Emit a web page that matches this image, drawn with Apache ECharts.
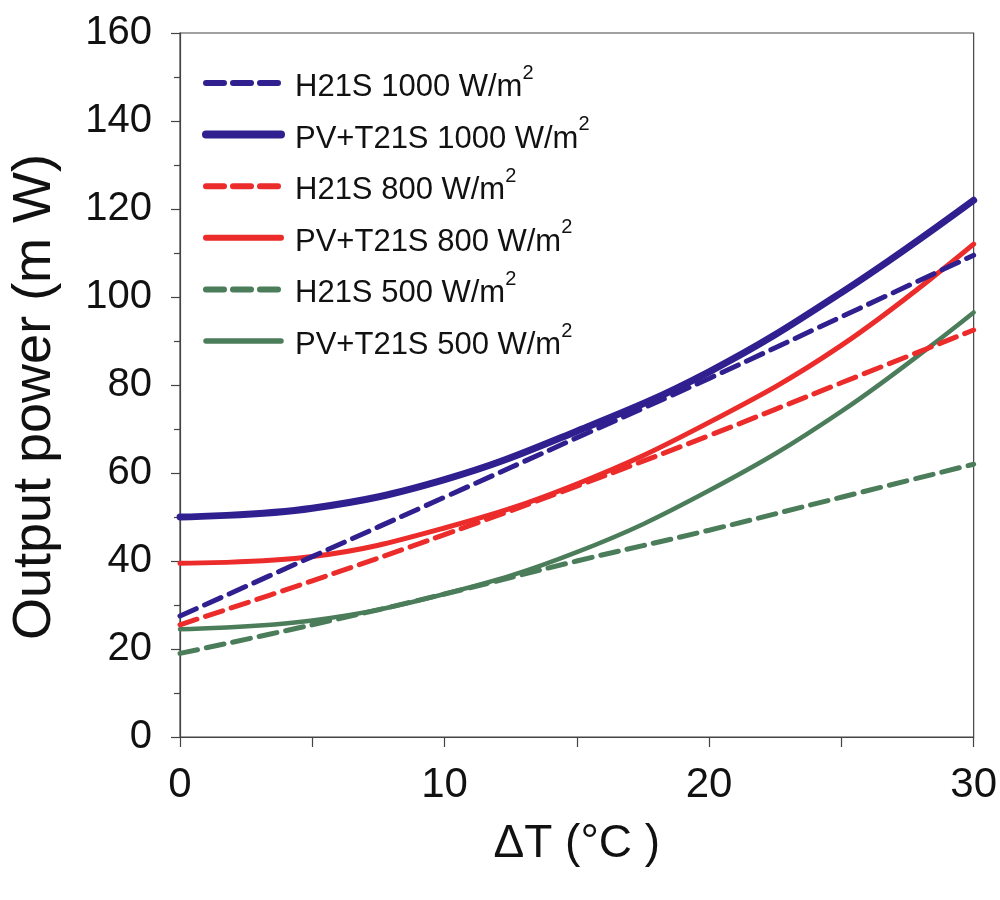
<!DOCTYPE html>
<html>
<head>
<meta charset="utf-8">
<script src="https://cdn.jsdelivr.net/npm/echarts@6/dist/echarts.min.js"></script>
<style>html,body{margin:0;padding:0;background:#fff;}#main{width:1000px;height:900px;}</style>
</head>
<body>
<div id="main"></div>
<script>
// Data
var deltaT = [0, 5, 10, 15, 20, 25, 30];
var h21s1000 = [27.5, 41, 54.5, 68, 81.5, 95.5, 109.5];
var pvt1000  = [50, 52, 58.5, 69.5, 83, 101, 122];
var h21s800  = [25.5, 35.5, 46, 57, 68.5, 80.5, 92.5];
var pvt800   = [39.5, 41, 47.5, 57.5, 71.5, 89, 112];
var h21s500  = [19, 25.5, 32.5, 40, 47, 54.5, 62];
var pvt500   = [24.5, 26.5, 32.5, 42, 56, 74, 96.5];
var yTicks = [0, 20, 40, 60, 80, 100, 120, 140, 160];
var xTicks = [0, 10, 20, 30];
var seriesNames = ['H21S 1000 W/m2', 'PV+T21S 1000 W/m2', 'H21S 800 W/m2', 'PV+T21S 800 W/m2', 'H21S 500 W/m2', 'PV+T21S 500 W/m2'];

var NAVY = '#30208F', RED = '#EC2B2B', GREEN = '#4B7D5A';
var FONT = '"Liberation Sans", Arial, sans-serif';

function pairs(vals) { return deltaT.map(function (x, i) { return [x, vals[i]]; }); }

var specs = [
  {vals: h21s1000, color: NAVY, width: 5, dashed: true},
  {vals: pvt1000, color: NAVY, width: 7, dashed: false},
  {vals: h21s800, color: RED, width: 5, dashed: true},
  {vals: pvt800, color: RED, width: 5, dashed: false},
  {vals: h21s500, color: GREEN, width: 5, dashed: true},
  {vals: pvt500, color: GREEN, width: 4.5, dashed: false}
];
var DASH = [18, 9];

var series = specs.map(function (s, i) {
  return {
    name: seriesNames[i],
    type: 'line',
    data: pairs(s.vals),
    smooth: 0.4,
    symbol: 'none',
    showSymbol: false,
    itemStyle: {color: s.color},
    lineStyle: {color: s.color, width: s.width, type: s.dashed ? DASH : 'solid', cap: 'round'},
    z: s.dashed ? 3 : 2
  };
});

var legendData = specs.map(function (s, i) {
  return {
    name: seriesNames[i],
    lineStyle: {color: s.color, width: s.width + 1, type: s.dashed ? DASH : 'solid', cap: 'round'},
    itemStyle: {opacity: 0, borderWidth: 0}
  };
});

var chart = echarts.init(document.getElementById('main'), null, {renderer: 'canvas'});
chart.setOption({
  backgroundColor: '#ffffff',
  animation: false,
  grid: {left: 176, right: 25, top: 33, bottom: 163, show: true, borderColor: '#444', borderWidth: 1.2, backgroundColor: 'transparent'},
  legend: {
    orient: 'vertical',
    left: 197,
    top: 58,
    itemWidth: 75,
    itemHeight: 10,
    itemGap: 11.6,
    data: legendData,
    itemStyle: {opacity: 0, borderWidth: 0},
    formatter: function (name) { return '{a|' + name.slice(0, -1) + '}{s|' + name.slice(-1) + '}'; },
    textStyle: {
      padding: [0, 0, 0, 9],
      rich: {
        a: {fontFamily: FONT, fontSize: 31, color: '#111', lineHeight: 40, verticalAlign: 'bottom'},
        s: {fontFamily: FONT, fontSize: 20, color: '#111', lineHeight: 22, verticalAlign: 'top'}
      }
    }
  },
  xAxis: {
    type: 'value',
    min: 0, max: 30, interval: 10,
    name: 'ΔT (°C )',
    nameLocation: 'middle',
    nameGap: 84,
    nameTextStyle: {fontFamily: FONT, fontSize: 46, color: '#111'},
    axisLine: {show: true, lineStyle: {color: '#444', width: 1.2}},
    axisTick: {show: true, length: 10, lineStyle: {color: '#444', width: 1.2}},
    minorTick: {show: true, splitNumber: 2, length: 10, lineStyle: {color: '#444', width: 1.2}},
    splitLine: {show: false},
    axisLabel: {
      margin: 27,
      fontFamily: FONT, fontSize: 42, color: '#111',
      customValues: xTicks
    }
  },
  yAxis: {
    type: 'value',
    min: 0, max: 160, interval: 20,
    name: 'Output power (m W)',
    nameLocation: 'middle',
    nameGap: 118,
    nameRotate: 90,
    nameTextStyle: {fontFamily: FONT, fontSize: 54, color: '#111', padding: [0, 24, 0, 0]},
    axisLine: {show: true, lineStyle: {color: '#444', width: 1.2}},
    axisTick: {show: true, length: 9, lineStyle: {color: '#444', width: 1.2}},
    minorTick: {show: true, splitNumber: 2, length: 6, lineStyle: {color: '#444', width: 1.2}},
    splitLine: {show: false},
    axisLabel: {
      margin: 28,
      fontFamily: FONT, fontSize: 40, color: '#111',
      customValues: yTicks
    }
  },
  series: series
});
</script>
</body>
</html>
